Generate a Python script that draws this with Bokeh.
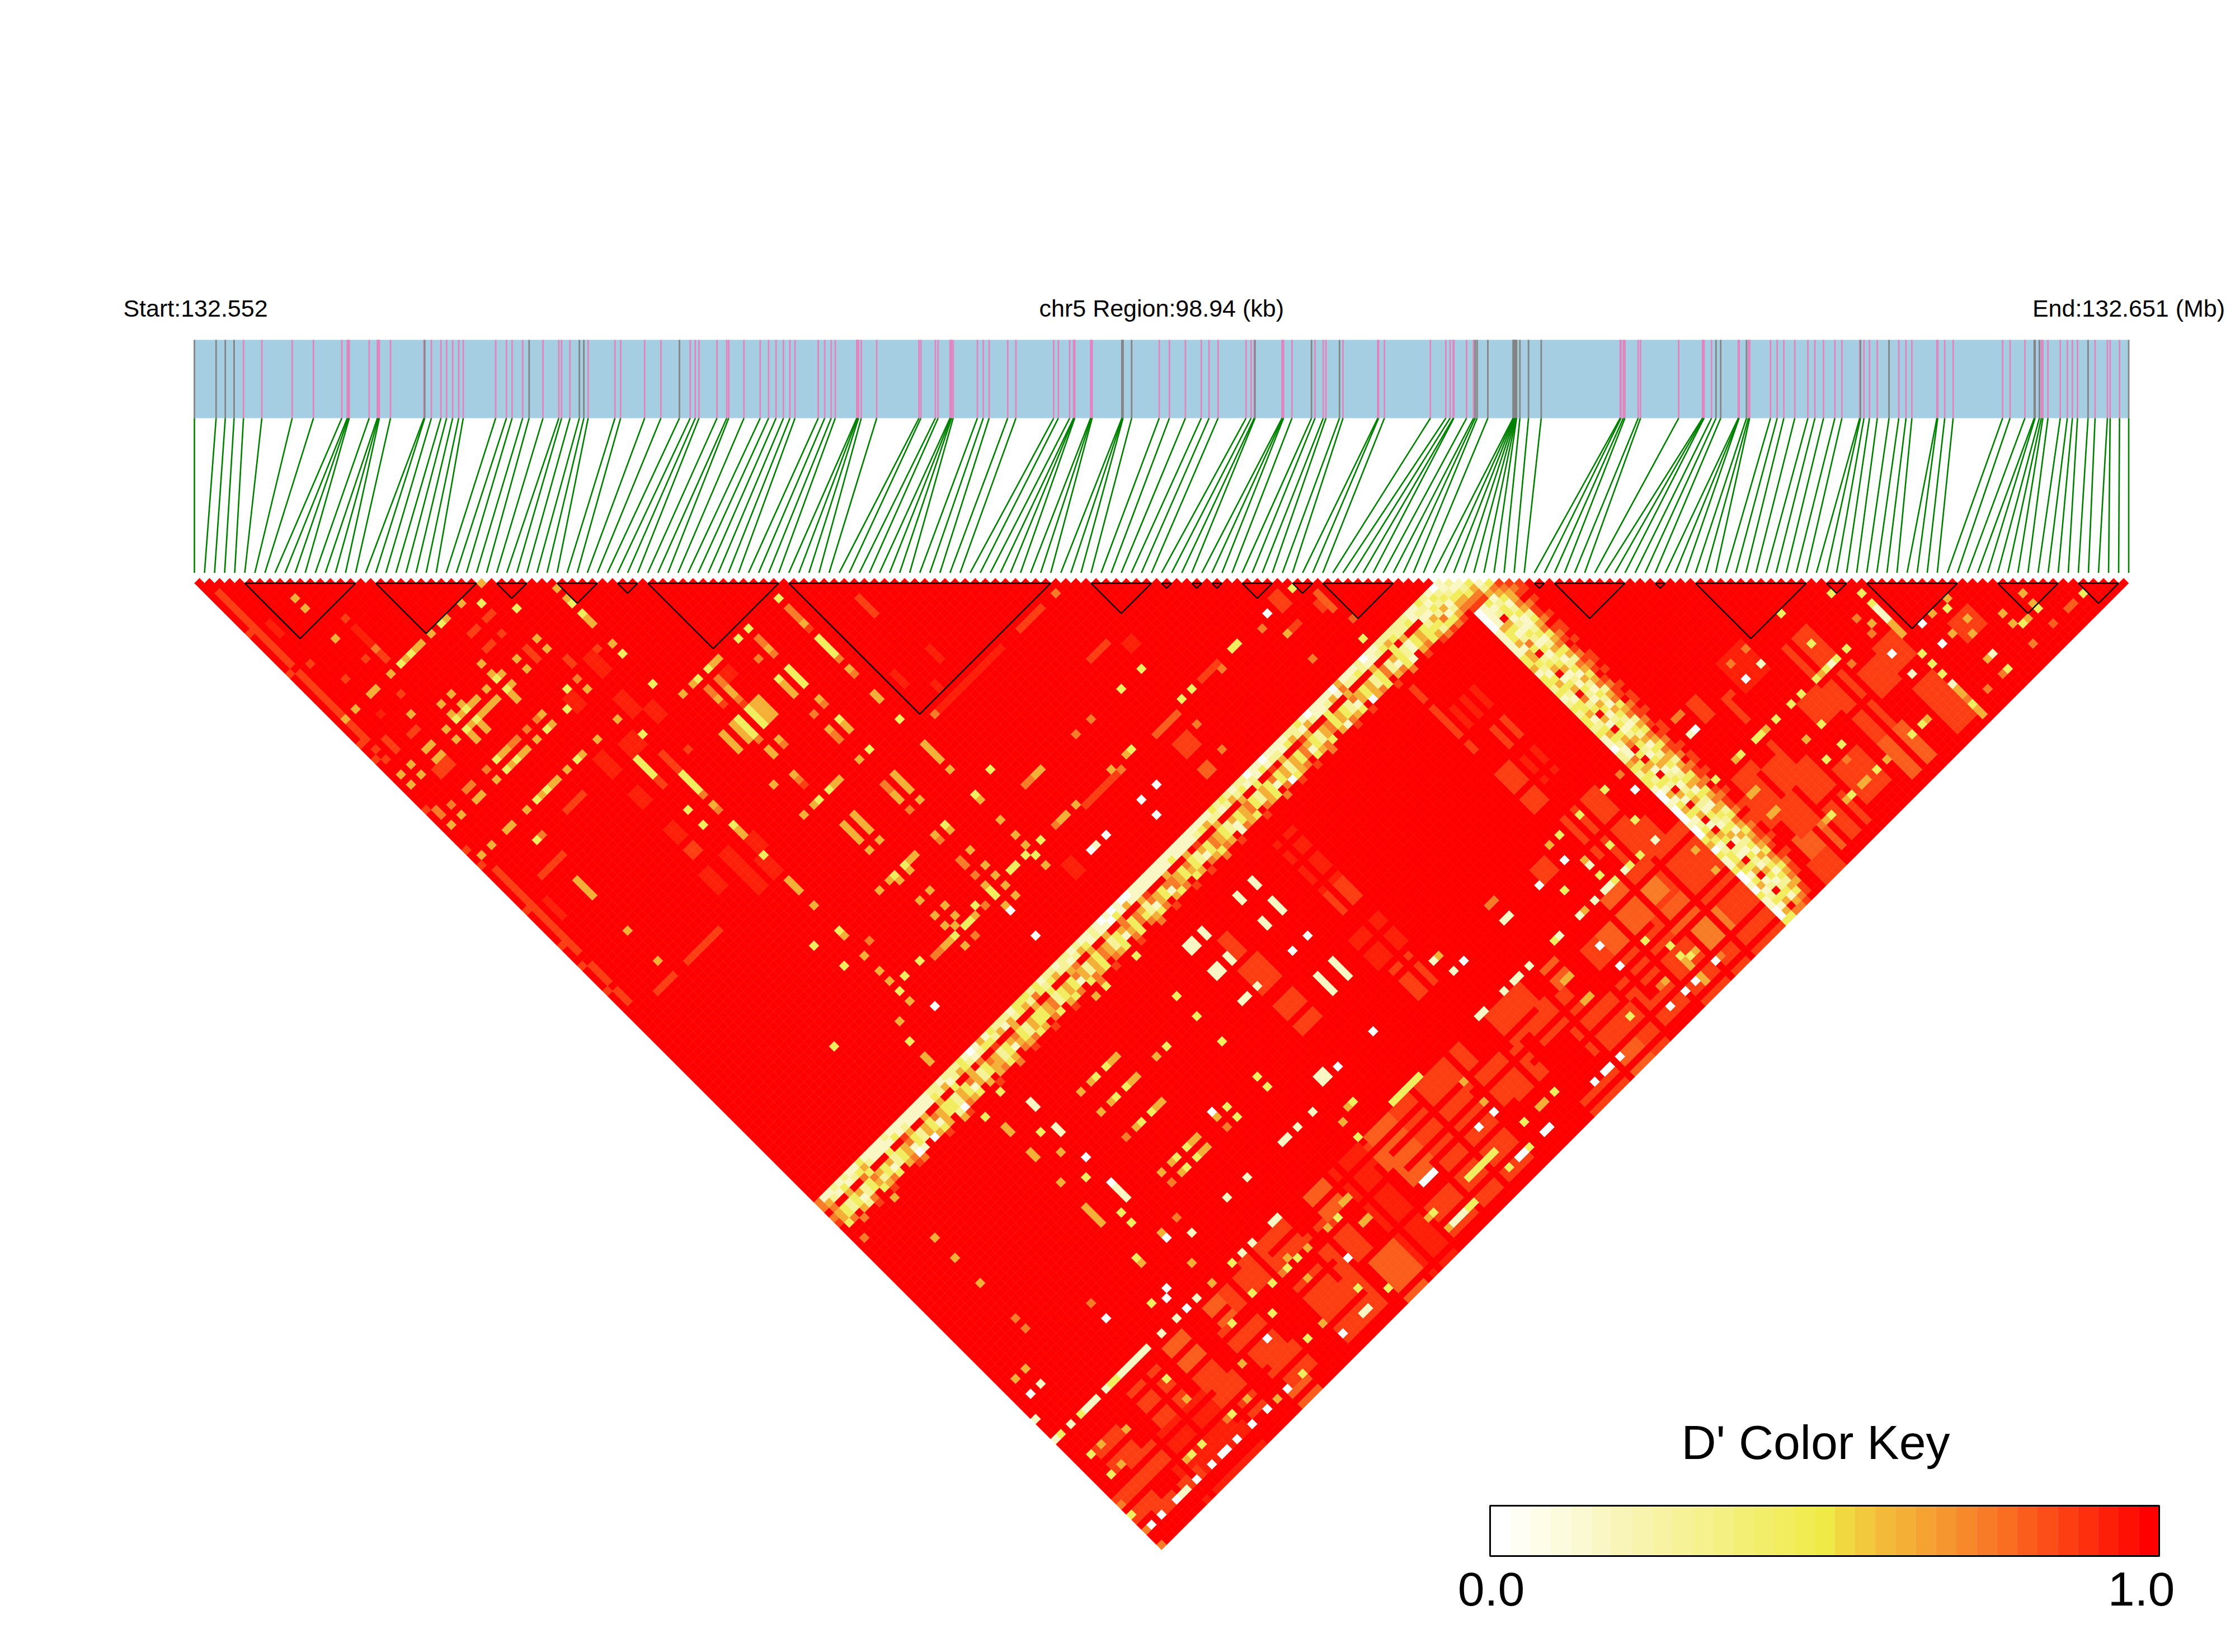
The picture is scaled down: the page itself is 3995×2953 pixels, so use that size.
from bokeh.plotting import figure
from bokeh.models import Range1d
from bokeh.core.properties import value
from bokeh.embed import file_html
from bokeh.resources import INLINE

# ---------- data ----------
region_kb = 98.94
title_start = "Start:132.552"
title_mid = "chr5 Region:98.94 (kb)"
title_end = "End:132.651 (Mb)"
key_title = "D' Color Key"
key_labels = ["0.0", "1.0"]

snp_kb = [0.0,1.11,1.58,2.03,2.51,3.45,5.0,6.09,7.54,7.82,7.87,7.92,8.94,9.36,9.41,9.46,10.03,11.74,11.78,12.12,12.61,12.9,13.21,13.52,13.75,
15.41,15.96,16.25,16.79,17.12,17.83,18.64,18.78,19.21,19.69,19.92,20.14,21.51,21.8,23.03,23.86,24.81,25.36,25.62,25.81,26.73,27.23,27.33,28.11,28.94,
29.37,29.75,30.13,30.46,30.72,31.91,32.24,32.57,32.78,33.88,33.92,33.97,34.11,34.9,
37.06,37.16,37.9,38.04,38.65,38.69,38.73,38.81,40.05,40.35,40.65,41.6,42.02,43.95,44.19,44.77,44.97,44.99,45.03,45.84,45.88,45.92,47.44,47.47,47.5,47.94,
49.35,49.87,50.69,51.5,51.9,52.36,53.79,54.05,54.21,54.25,55.63,55.67,55.71,56.14,57.14,57.32,57.74,57.88,58.57,58.75,60.53,60.57,60.87,63.22,
64.01,64.23,64.39,64.42,65.07,65.43,65.51,65.61,66.16,67.45,67.48,67.51,67.54,67.57,67.6,67.63,67.8,68.24,
68.89,72.93,72.97,73.09,73.17,73.85,73.97,75.92,77.14,77.18,77.22,77.6,77.83,78.07,78.97,79.0,79.01,79.39,79.49,79.55,80.62,80.96,81.3,81.86,82.53,82.89,
83.33,83.91,84.27,85.18,85.22,85.4,85.68,86.08,86.68,87.18,87.55,87.85,89.13,89.17,89.53,89.96,92.49,92.87,93.63,94.11,94.15,94.37,94.47,94.55,94.81,
95.44,95.8,96.06,96.32,96.86,97.22,97.85,97.99,98.47,98.94]
grey_kb = {0.0,1.11,1.58,2.03,11.78,17.12,19.69,19.92,24.81,47.44,47.47,47.5,47.94,54.25,57.14,58.57,65.51,65.61,66.16,
67.45,67.48,67.51,67.54,67.57,67.6,67.63,67.8,68.24,68.89,77.83,78.07,79.39,85.22,86.68,94.11,94.15,94.37,96.86,98.94}

ld_blocks = [(5,16),(18,28),(30,33),(36,40),(42,44),(45,58),(59,85),(89,95),(96,97),(99,100),(101,102),(104,107),(109,111),
(112,119),(133,134),(135,142),(145,146),(149,160),(162,164),(166,175),(179,185),(187,191)]

key_colors = ["#FFFFFF","#FEFEF4","#FDFDE8","#FCFBDD","#FBF9D1","#FAF7C5","#F9F5B9","#F8F4AE","#F7F3A3","#F6F297","#F5F18C",
"#F4F081","#F3EF75","#F2EE69","#F1ED5E","#F0EC52","#F0EA46","#F1D840","#F2C93C","#F3B938","#F4AF36","#F5A232","#F6962E",
"#F7892B","#F87C27","#FA6E22","#FB5D1D","#FC4E18","#FD3E12","#FD2F0D","#FE1F08","#FE1004","#FF0000"]

# D' value for each letter used in the tables below
dprime = {"W":0.0,"C":0.16,"P":0.28,"Y":0.44,"G":0.62,"O":0.75,"N":0.81,"T":0.87,"Q":0.94,"R":1.0}

# low-D' columns j = 124..130 (band running down-left), i = 0.. upward
band_a = {
124:"OCCPCPCCYC"+"CCCPCCCCCC"+"CCPPCPPPYC"+"WCGCYPPPCY"+"YYPYCPPCPP"+"CPCCPCWCWC"+"WWCCCCCCCC"+"CCCCCCCCYP"+"YPCPPWCCWC"+"CCCPPYCWCC"+"CCWGCCCPWC"+"CPPPPPPCPP"+"PYPP",
125:"OGPCYCPYGP"+"CCCCYCPCCC"+"CCYPGCPGYP"+"CPYYPGCGPY"+"GPOYPYGPPC"+"PGYCPCCWYC"+"GCCCCCCCCY"+"CCCCPYGPPC"+"PGPYCPCYCP"+"PCYGPCGPCC"+"PGCOPPYPCC"+"PYGYPPYCYP"+"YCPG",
126:"RORRGRROYR"+"RRYRRTGRRG"+"RRGRRYRRGR"+"ORRTRRRGRR"+"RGRRYRRRGO"+"RRGRRGRROR"+"RRGTRRRGRR"+"RGRTRRRGRR"+"RRGRRYRRTR"+"GRRRTGRRRY"+"RRRGRRRRGR"+"RRYRGRRRGR"+"GRRT",
127:"OGYPYGPYOG"+"YGPYGOYPGY"+"OGYYPGYOGP"+"YOGPYGOYPG"+"YYGOPYGYOG"+"PGYOGPYGOY"+"OGPOGYOOGY"+"OYPGYOGYPG"+"YGOYPGYOYG"+"PGYOGYPGOY"+"GYPOGYGPYO"+"PGYPCYGYPG"+"PYGC",
128:"TGYPYCPYGP"+"YCPYGCYPGY"+"CGYYPGYCGP"+"YGGPYCGYPG"+"YYGOPYGYCG"+"PGYOGPYCGY"+"OYPCGYCOGY"+"GYPCYOGYPC"+"YGOYPGYCYG"+"PGYOCYPGOY"+"GYPCGYGPYO"+"PCYPCYGYPG"+"PYGC",
129:"RYORGPORYG"+"OYRGOWCRWG"+"YGRPWOGYRG"+"RGOYGROGOY"+"GROYRGYORY"+"OGYROGYROY"+"ROGYORGYOR"+"YGROGYOGRC"+"OGYROGYROW"+"YGORYGOYRG"+"COGYRWGOYR"+"GOYCRGOYRG"+"OYRG",
130:"RRRORRTRRT"+"RRRRTORRRR"+"TRRRTRRRRR"+"TRRRORRTRR"+"RTRRRTRRRR"+"ORRTRRRRTR"+"RRORRTRRRT"+"RRTRRORRTR"+"RRRTRRRORR"+"TRRTRRORRR"+"RTRRTRRRRT"+"RRORRTRRTR"+"RRRT",
}
# low-D' rows i = 124..131 (band running down-right), j = 131..192
band_b = {
124:"WWWWCCCCCY"+"YGCYYPYCPY"+"PYYPYCCWPP"+"GYPYYCWWCW"+"WWCWWYGWYC"+"CYWWCWYCCWWY",
125:"CCCCGYYGCG"+"GYPCYGYPCY"+"YGCPYGYPCC"+"OYGYPYCGCY"+"GYCPYGYCPY"+"YGYCYGCPYCGY",
126:"YCPRGYCPOY"+"RPYGRCYGRO"+"PYRGCRYGOR"+"YRGCRYPRGC"+"RYGRCRGYRP"+"CRYGRCPRYGRO",
127:"CPYYCPCYPC"+"YCPYGCPCYP"+"CGYCPYCPGY"+"PCYGCPYCPY"+"GPCYPCYGCP"+"CYPCGYCPYCGO",
128:"GYCPYCCPYC"+"PGYCPYCGPC"+"YPCGYPCYPG"+"CYPGYCPYGC"+"YPCGYPYCGP"+"YCGPYCYPGYOT",
129:"OGGOGPYGOY"+"GOYGPOGYGO"+"PGOYGOPGYO"+"GYOGPGOYGO"+"YGOGPYOGYG"+"OGYOGYGOGTTR",
130:"TOTROTTORT"+"OTRTOTOTRT"+"OTTROTTOTR"+"TOTTOROTTO"+"RTOTTORTOT"+"TOTRTOTTRRRR",
131:"RTTRTRRTRT"+"TRTRRTTRTR"+"RTRTTRTRRT"+"TRRTRTTRTR"+"TRTRRTRTTR"+"RTRRTRRRRRRR",
}
# where the two bands meet at the top: row i, first j, letters
top_runs = [(118,124,"CPCPYGT"),(119,124,"YPCGYPO"),(120,124,"PCYPOYT"),(121,124,"CYPGCYO"),(122,124,"WPYCPGT"),(123,124,"CCPYGOR"),
(124,125,"PCYGOT"),(125,126,"CPYOT"),(126,127,"YGOT"),(127,128,"CPG"),(128,129,"YO"),(129,130,"T")]

# areas of raised orange-red: i from, i to, j from, j to, letter
hatch_blocks = [(107,123,172,192,"T"),(66,75,172,180,"T"),(66,75,182,190,"T"),(0,4,182,187,"T"),(86,100,190,192,"T"),(54,59,172,192,"Q"),(9,20,181,192,"Q"),
(108,112,172,178,"N"),(113,115,174,177,"O"),(112,116,179,182,"N"),(113,118,184,189,"O"),(115,118,188,191,"T"),
(110,110,186,191,"G"),(103,108,174,180,"N"),(100,103,174,178,"T"),(104,107,179,184,"T"),(106,106,183,184,"T"),(95,97,173,176,"N"),
(98,102,182,186,"T"),(98,102,186,190,"T"),(102,106,187,191,"T"),(85,91,172,177,"T"),(88,92,176,180,"T"),(91,95,177,181,"T"),
(92,97,181,186,"T"),(94,98,185,190,"T"),(94,97,189,192,"N"),(80,85,178,184,"T"),(78,82,176,182,"T"),(75,79,172,177,"T"),
(66,70,189,189,"T"),(60,64,172,176,"T"),(60,63,174,178,"N"),(61,64,178,181,"N"),(60,64,185,190,"T"),(49,53,185,190,"N"),
(49,52,189,192,"N"),(45,50,176,183,"T"),(28,31,173,176,"N"),(27,32,177,180,"T"),(28,32,181,186,"T"),(28,31,189,192,"N"),
(31,35,173,178,"T"),(49,52,172,176,"N"),(61,65,172,177,"N"),(61,65,177,180,"N"),(29,33,185,189,"T"),(43,46,184,190,"T"),
(39,43,180,185,"T"),(39,43,186,191,"T"),(40,44,172,176,"T"),(36,39,172,177,"T"),(20,24,176,180,"T"),(20,24,181,184,"T"),
(22,25,185,188,"T"),(5,9,181,185,"T"),(3,7,176,180,"T"),(3,6,188,191,"T"),(8,11,188,191,"T"),(12,17,174,180,"T"),(20,24,173,177,"N"),
(133,136,173,176,"T"),(140,141,173,175,"T"),(151,154,173,177,"T"),(151,155,184,190,"N"),(151,154,179,183,"T"),(133,137,185,190,"N"),
(139,142,185,190,"T"),(132,135,189,192,"T"),(136,138,161,164,"T"),(140,141,164,168,"T"),(104,106,162,164,"T"),
(81,83,114,116,"T"),(81,82,119,120,"N"),(42,44,62,63,"Q"),(5,9,64,64,"T"),(11,17,87,87,"T"),(5,8,87,87,"T"),(60,65,87,87,"Q"),
(66,73,87,87,"Q"),(77,81,87,87,"T"),(66,73,111,111,"T"),(80,84,111,111,"N"),(6,7,43,44,"T"),(5,5,43,44,"T")]
# red SNP lines that cut through those areas: j, i from, i to / i, j from, j to
hatch_red_j = [(174,40,70),(174,95,125),(175,0,30),(178,0,60),(179,62,110),(181,25,45),(181,85,124),(182,0,20),(184,50,100),(183,100,124),(185,0,28),
(188,60,124),(187,20,45),(191,0,124),(177,30,48),(176,62,90),(190,0,22)]
hatch_red_i = [(33,165,180),(34,182,192),(38,172,186),(47,178,192),(46,165,176),(55,165,192),(59,176,192),(60,165,172),(70,172,192),(77,165,182),(78,184,192),
(83,172,192),(84,165,172),(93,176,192),(92,165,175),(100,165,183),(101,185,192),(107,172,192),(112,165,181),(113,183,192),(117,172,192),(136,175,192),(141,165,192),
(153,170,192),(24,170,181),(25,183,192),(15,172,185),(10,178,192)]

# fainter patches, painted after the red lines: i from, i to, j from, j to, letter
faint_blocks = [(3,3,12,14,"Q"),(11,11,19,19,"T"),(11,11,21,24,"Q"),(11,11,25,25,"O"),(11,11,26,27,"T"),(9,9,25,25,"T"),(3,3,20,20,"T"),(5,5,25,25,"T"),
(9,9,32,32,"T"),(5,5,32,32,"Q"),(3,3,35,37,"T"),(6,7,37,37,"T"),(22,23,33,33,"T"),(22,23,36,36,"T"),(25,26,33,33,"T"),(25,25,36,36,"T"),(26,26,40,42,"T"),
(29,29,45,46,"T"),(33,33,47,47,"T"),(31,32,47,50,"Q"),(25,26,49,51,"Q"),(30,31,54,57,"Q"),(32,33,58,60,"Q"),(26,28,59,61,"Q"),(22,23,58,61,"Q"),(29,29,64,67,"T"),
(26,26,66,67,"T"),(22,23,65,67,"Q"),(14,17,60,60,"T"),(32,32,66,66,"T"),(22,23,76,77,"T"),(22,23,72,74,"Q"),(29,30,81,83,"Q"),(25,26,80,83,"Q"),(21,22,80,83,"Q"),(25,26,84,87,"Q"),(28,29,84,87,"Q"),
(64,64,68,71,"T"),(66,66,80,82,"Q"),(63,63,84,85,"Q"),(60,60,79,81,"Q"),(90,93,110,110,"T"),(81,84,97,97,"T"),(86,87,99,100,"Q"),(105,106,109,111,"T"),(104,105,114,114,"T"),
(110,110,113,116,"N"),(109,109,114,115,"T"),(111,111,119,119,"N"),(58,59,115,117,"Q"),(79,84,151,156,"Q"),(81,84,144,147,"T"),(81,84,139,143,"Q"),(81,84,134,137,"Q"),(80,83,158,163,"T"),
(65,68,143,147,"T"),(66,67,138,141,"T"),(65,68,150,155,"T"),(112,116,138,142,"Q"),(110,110,132,144,"T"),(110,112,149,156,"T"),(113,116,144,148,"T"),(113,116,150,154,"Q"),
(112,118,160,167,"T"),(114,120,168,172,"T"),(151,155,165,170,"T"),(156,159,175,179,"T"),(160,163,182,186,"T"),(160,163,174,178,"T"),(170,173,179,182,"T"),(160,163,186,190,"T"),
(183,184,189,189,"N"),(180,180,189,189,"N"),(137,140,175,179,"T"),(139,142,178,183,"T"),(132,135,176,181,"T"),(134,137,180,185,"T"),(143,147,160,165,"Q"),(147,150,172,176,"T"),(144,148,182,188,"T")]
faint_red_j = [135,142,148,153,159,165]
faint_red_i = [82,113,115,138,152]

# single rows: i, first j, letters for successive j
row_runs = [(1,4,"TTTT"),(1,8,"TTTT"),(1,12,"TTTTTT"),(1,18,"T"),(1,20,"TTTTTT"),(1,26,"TTTGTTTT"),(1,35,"T"),(1,37,"T"),(1,59,"TTTTTTTT"),
(1,67,"TTTTTTT"),(1,74,"TT"),(1,78,"TTTT"),(1,83,"TTT"),(3,67,"QQQQ"),(0,11,"T"),(0,19,"T"),(0,33,"T"),(0,36,"T"),(0,46,"T"),(0,54,"T"),
(0,57,"T"),(0,66,"T"),(0,73,"T"),(0,77,"T"),(0,82,"T"),(8,68,"GGGG"),(35,43,"GG"),(26,62,"YYY"),(29,68,"YYYYO"),(29,78,"YGG"),(29,90,"GG"),
(50,68,"YYYY"),(48,68,"YGGG"),(42,68,"YYYY"),(43,68,"GGGG"),(44,68,"GGGG"),(40,68,"YYYY"),(39,68,"GGGG"),(37,68,"GGGG"),(42,62,"OOGGOT"),
(40,62,"OOGT"),(56,62,"OOOGT"),(50,62,"OOGO"),(40,79,"GOT"),(56,68,"YYYYO"),(56,90,"GGG"),(50,90,"GGG"),(48,90,"OGG"),(42,90,"GGG"),(40,90,"GGG"),
(164,170,"CCC"),(164,173,"GGG"),(75,135,"CC"),(72,135,"CC"),(75,139,"CCC"),(72,140,"CC"),(65,135,"CC"),(62,135,"CC"),(63,135,"CC"),(62,140,"CC"),
(63,140,"CC"),(65,140,"CC"),(75,151,"CCCC"),(72,151,"CCCC"),(26,151,"GGGG"),(31,151,"WCCC"),(31,140,"CC"),(26,140,"GG"),(26,135,"GG"),(31,135,"CC"),
(25,120,"GG"),(62,161,"CC"),(63,161,"CC"),(164,185,"CGGOYGG"),(14,43,"GG"),(12,43,"GG")]

# single columns: j, first i, letters for successive i
col_runs = [(29,12,"YGYGG"),(29,6,"GG"),(40,12,"YGYGG"),(42,12,"YGYGGG"),(40,6,"GG"),(42,6,"GG"),(48,12,"YGGOO"),(50,12,"YGYGG"),(48,6,"OO"),(50,6,"GG"),
(56,6,"GG"),(56,12,"YGYGG"),(56,20,"YG"),(60,42,"YGG"),(84,42,"YGG"),(84,39,"GY"),(99,42,"YGG"),(103,62,"OOG"),(110,96,"YY"),(110,62,"GG"),(110,61,"O"),
(110,52,"YY"),(111,42,"YYG"),(111,36,"OOGGY"),(116,62,"WC"),(164,133,"CW"),(161,133,"OO"),(171,135,"GY"),(171,113,"CY"),(164,96,"CC"),(171,99,"YC"),
(161,96,"OO"),(176,133,"GG"),(180,133,"GG"),(186,145,"GG"),(186,137,"OGY"),(176,96,"GG"),(180,96,"GG"),(186,105,"OG"),(171,91,"CC"),(171,84,"CC"),
(189,91,"WW"),(186,81,"GG"),(189,79,"WW"),(189,74,"WW"),(186,67,"YYYYYY"),(182,62,"WW"),(189,60,"GCCCYY"),(180,52,"GG"),(189,43,"CC"),(171,5,"YCCC"),
(171,11,"YYCCCCC"),(171,67,"YYYYYY"),(171,43,"CC"),(164,52,"CC"),(167,62,"GY"),(176,52,"GG"),(189,15,"WW"),(189,6,"WCC"),(171,0,"CY"),(139,42,"YGG"),
(143,42,"YGG"),(148,42,"YGG"),(155,42,"YGG"),(157,42,"YGG"),(171,151,"YGYCY"),(171,139,"YYG")]

spots = {
"W":[(103,110),(167,176),(167,180),(161,176),(144,164),(122,164),(108,164),(103,164),(75,116),(72,116),(72,119),(65,116),(48,119),(75,146),(72,146),
     (48,114),(31,116),(103,176),(103,180),(113,189),(109,189),(107,189),(104,189),(88,164),(94,189),(89,189),(76,182),(73,182),(64,182),(47,182),(39,189),
     (31,182),(28,189),(21,189),(24,189),(18,189),(13,189),(10,189),(3,189),(1,189),(26,167),(25,168),(26,171),(2,164),(17,164),(48,154),(31,146),(65,162),(72,162),(31,162)],
"C":[(161,180),(110,167),(109,171),(110,171),(107,171),(104,171),(119,171),(94,171),(89,171),(86,164),(85,161),(147,164),(65,146),(62,146),(63,146),(3,171),
     (10,171),(18,171),(21,171),(24,171),(28,171),(37,171),(39,171),(41,164),(45,164),(55,164),(58,164),(34,164),(0,167),(4,164),(44,189),(171,186),(177,186)],
"Y":[(26,31),(29,35),(20,29),(14,29),(12,29),(20,40),(20,42),(14,40),(12,40),(14,42),(12,42),(26,48),(24,50),(20,50),(35,40),(35,42),(35,50),(35,56),(29,60),(26,65),
     (26,72),(26,75),(29,84),(56,60),(50,60),(48,60),(42,60),(40,60),(8,60),(56,84),(50,78),(50,84),(42,84),(40,84),(50,99),(56,99),(60,98),(40,99),(45,110),(48,110),(48,111),
     (29,99),(26,103),(34,110),(25,98),(31,110),(29,111),(17,110),(25,117),(108,110),(110,122),(85,103),(81,103),(88,110),(86,110),(76,110),(50,131),(56,131),(56,143),(56,139),
     (58,110),(55,110),(56,111),(161,164),(164,167),(164,169),(171,177),(164,179),(164,181),(164,183),(186,189),(177,186),(180,186),(157,186),(155,186),(154,161),(154,167),(157,171),
     (148,171),(146,171),(143,171),(147,176),(147,180),(144,180),(131,171),(148,186),(143,186),(119,161),(114,161),(119,167),(110,161),(114,167),(116,171),(110,169),(111,171),(105,167),
     (108,180),(110,183),(110,185),(111,186),(99,186),(84,186),(78,186),(72,189),(60,186),(48,189),(45,186),(50,177),(42,177),(40,177),(37,177),(34,176),(34,180),(29,177),(35,186),
     (31,189),(20,186),(14,186),(12,186),(0,186),(17,176),(2,176),(2,180),(35,171),(60,171),(26,161),(23,167),(29,155),(29,157),(29,148),(29,143),(29,139),(25,132),(29,131),
     (50,143),(56,148),(40,139),(40,143),(40,148),(40,155),(40,157),(50,155),(50,157),(56,155),(56,157),(76,189),(171,189)],
"G":[(8,12),(8,14),(8,20),(28,29),(24,29),(21,29),(18,29),(10,29),(3,29),(14,37),(12,37),(14,39),(8,35),(18,40),(18,42),(20,39),(21,40),(20,37),(21,42),(20,44),(20,43),
     (24,40),(24,42),(28,40),(28,42),(12,39),(10,40),(10,42),(3,40),(3,42),(1,40),(1,42),(10,48),(10,50),(3,50),(1,50),(7,56),(10,56),(9,60),(3,56),(1,56),(18,56),(18,50),(21,50),(21,48),(28,50),
     (35,39),(35,37),(35,48),(37,60),(28,56),(24,56),(8,78),(8,84),(29,74),(44,60),(43,60),(39,60),(40,74),(40,75),(42,74),(37,78),(37,84),(29,89),(56,74),(50,74),(50,79),(50,80),
     (56,79),(56,80),(48,78),(48,84),(56,89),(56,94),(50,89),(50,94),(42,89),(40,89),(42,94),(40,94),(48,99),(50,100),(56,100),(65,103),(50,104),(50,107),(56,104),(56,107),(56,109),(56,113),(50,109),(48,109),
     (50,111),(50,113),(48,113),(42,104),(40,104),(42,107),(40,107),(37,99),(29,94),(29,100),(42,100),(39,99),(40,100),(42,109),(40,109),(41,110),(40,113),(29,104),(29,107),(29,109),(29,113),(26,114),
     (103,114),(65,110),(72,110),(75,110),(48,131),(162,171),(169,176),(172,176),(172,180),(171,182),(169,180),(170,186),(176,183),(180,183),(180,185),(178,186),(176,185),(158,186),(144,176),(122,176),(122,180),
     (108,161),(110,166),(105,171),(112,186),(86,161),(150,186),(142,186),(76,176),(76,180),(59,186),(41,176),(44,177),(41,180),(38,186),(26,189),(23,186),(11,186),(17,180),(8,177),(4,176),(4,180),(26,182),(31,171),(31,167),
     (26,162),(31,161),(48,177),(60,168),(29,143),(8,131),(8,139),(8,143),(8,148),(4,161),(2,161),(48,143),(39,139),(37,143),(37,139),(39,143),(39,148),(39,155),(39,157),(37,155),(48,155),(26,146),(23,130)],
"O":[(1,47),(1,48),(3,48),(10,48),(18,48),(20,48),(28,48),(9,60),(42,75),(40,72),(29,75),(56,75),(50,75),(48,64),(48,75),(48,79),(48,80),(56,72),(48,89),(48,94),(48,100),(48,104),(48,105),(48,107),(60,87),(84,87),
     (46,111),(31,103),(42,113),(101,111),(103,119),(73,111),(75,103),(72,103),(85,114),(85,119),(93,111),(161,169),(161,172),(156,173),(170,189),(176,189),(167,189),(147,161),(144,161),(146,182),(122,161),(37,148),(37,157),(34,161),(17,161),
     (8,155),(8,157),(48,157),(1,132),(19,186),(39,177),(0,184),(0,189),(0,192),(164,188)],
}

# ---------- layout of the page (reference pixels) ----------
W, H = 3979, 2935
x_left, x_right = 347.0, 3804.5
y_row0 = 1042.0
half = 9.0

N = len(snp_kb)
pitch = (x_right - x_left) / (N - 1)
half_x = pitch / 2

p = figure(width=W, height=H, x_range=Range1d(0, W), y_range=Range1d(H, 0),
           output_backend="svg", toolbar_location=None, x_axis_location=None, y_axis_location=None,
           min_border=0, outline_line_color=None, background_fill_color="white", border_fill_color="white")
p.grid.visible = False

# ---------- matrix of D' values ----------
grid = {}
for i in range(N):
    for j in range(i + 1, N):
        grid[(i, j)] = 1.0

def put(i, j, v):
    if (i, j) in grid:
        grid[(i, j)] = v

for i0, i1, j0, j1, c in hatch_blocks:
    for i in range(i0, i1 + 1):
        for j in range(j0, j1 + 1):
            put(i, j, dprime[c])
for j, i0, i1 in hatch_red_j:
    for i in range(i0, i1 + 1):
        put(i, j, 1.0)
for i, j0, j1 in hatch_red_i:
    for j in range(j0, j1 + 1):
        put(i, j, 1.0)
for i0, i1, j0, j1, c in faint_blocks:
    for i in range(i0, i1 + 1):
        for j in range(j0, j1 + 1):
            put(i, j, dprime[c])
for j in faint_red_j:
    for i in range(60, 124):
        put(i, j, 1.0)
for i in faint_red_i:
    for j in range(130, 172):
        put(i, j, 1.0)
for j, s in band_a.items():
    for i, c in enumerate(s):
        put(i, j, dprime[c])
for i, s in band_b.items():
    for k, c in enumerate(s):
        put(i, 131 + k, dprime[c])
for i, j0, s in top_runs:
    for k, c in enumerate(s):
        put(i, j0 + k, dprime[c])
for i, j0, s in row_runs:
    for k, c in enumerate(s):
        put(i, j0 + k, dprime[c])
for j, i0, s in col_runs:
    for k, c in enumerate(s):
        put(i0 + k, j, dprime[c])
for c, cells in spots.items():
    for i, j in cells:
        put(i, j, dprime[c])

items = sorted(grid.items(), key=lambda kv: -kv[1])
xs, ys, cols = [], [], []
for (i, j), v in items:
    cx = x_left + (i + j) * half_x
    cy = y_row0 + (j - i - 1) * half
    xs.append([cx - half_x, cx, cx + half_x, cx])
    ys.append([cy, cy - half, cy, cy + half])
    cols.append(key_colors[round(v * 32)])
p.patches(xs, ys, fill_color=cols, line_color=cols, line_width=0.5)

# LD block outlines
bx, by = [], []
for a, b in ld_blocks:
    xa, xb = x_left + a * pitch, x_left + b * pitch
    bx.append([xa, xb, (xa + xb) / 2, xa])
    by.append([y_row0, y_row0, y_row0 + (b - a) * half, y_row0])
p.multi_line(bx, by, line_color="black", line_width=2.4)

# gene band, SNP ticks, connectors
band_top, band_bottom, link_bottom = 607.0, 747.0, 1023.5
p.quad(left=[x_left], right=[x_right + 1], top=[band_top], bottom=[band_bottom], fill_color="#A6CEE3", line_color=None)
snp_x = [x_left + k / region_kb * (x_right - x_left) for k in snp_kb]
pink = [x for x, k in zip(snp_x, snp_kb) if k not in grey_kb]
grey = [x for x, k in zip(snp_x, snp_kb) if k in grey_kb]
p.segment(pink, [band_top] * len(pink), pink, [band_bottom] * len(pink), line_color="#E086BE", line_width=2.8)
p.segment(grey, [band_top] * len(grey), grey, [band_bottom] * len(grey), line_color="#848484", line_width=2.8)
p.segment(snp_x, [band_bottom] * N, [x_left + k * pitch for k in range(N)], [link_bottom] * N, line_color="#008000", line_width=2.6)

# header texts
p.text(x=[x_left + 2, (x_left + x_right) / 2, x_right], y=[550, 550, 550], text=[title_start, title_mid, title_end],
       text_font=value("Liberation Sans"), text_font_size=value("43px"), text_color="black",
       text_align="center", text_baseline="alphabetic")

# colour key
kl, kr, kt, kb_ = 2663.0, 3859.0, 2691.0, 2781.0
step = (kr - kl) / len(key_colors)
p.quad(left=[kl + n * step for n in range(len(key_colors))], right=[kl + (n + 1) * step for n in range(len(key_colors))],
       top=[kt] * len(key_colors), bottom=[kb_] * len(key_colors), fill_color=key_colors, line_color=key_colors, line_width=0.3)
p.quad(left=[kl], right=[kr], top=[kt], bottom=[kb_], fill_color=None, line_color="black", line_width=3)
p.text(x=[3245], y=[2577], text=[key_title], text_font=value("Liberation Sans"), text_font_size=value("86px"),
       text_color="black", text_align="center", text_baseline="alphabetic")
p.text(x=[kl + 2, 3827], y=[2840, 2840], text=key_labels, text_font=value("Liberation Sans"), text_font_size=value("86px"),
       text_color="black", text_align="center", text_baseline="alphabetic")

open("out.html", "w").write(file_html(p, INLINE))
